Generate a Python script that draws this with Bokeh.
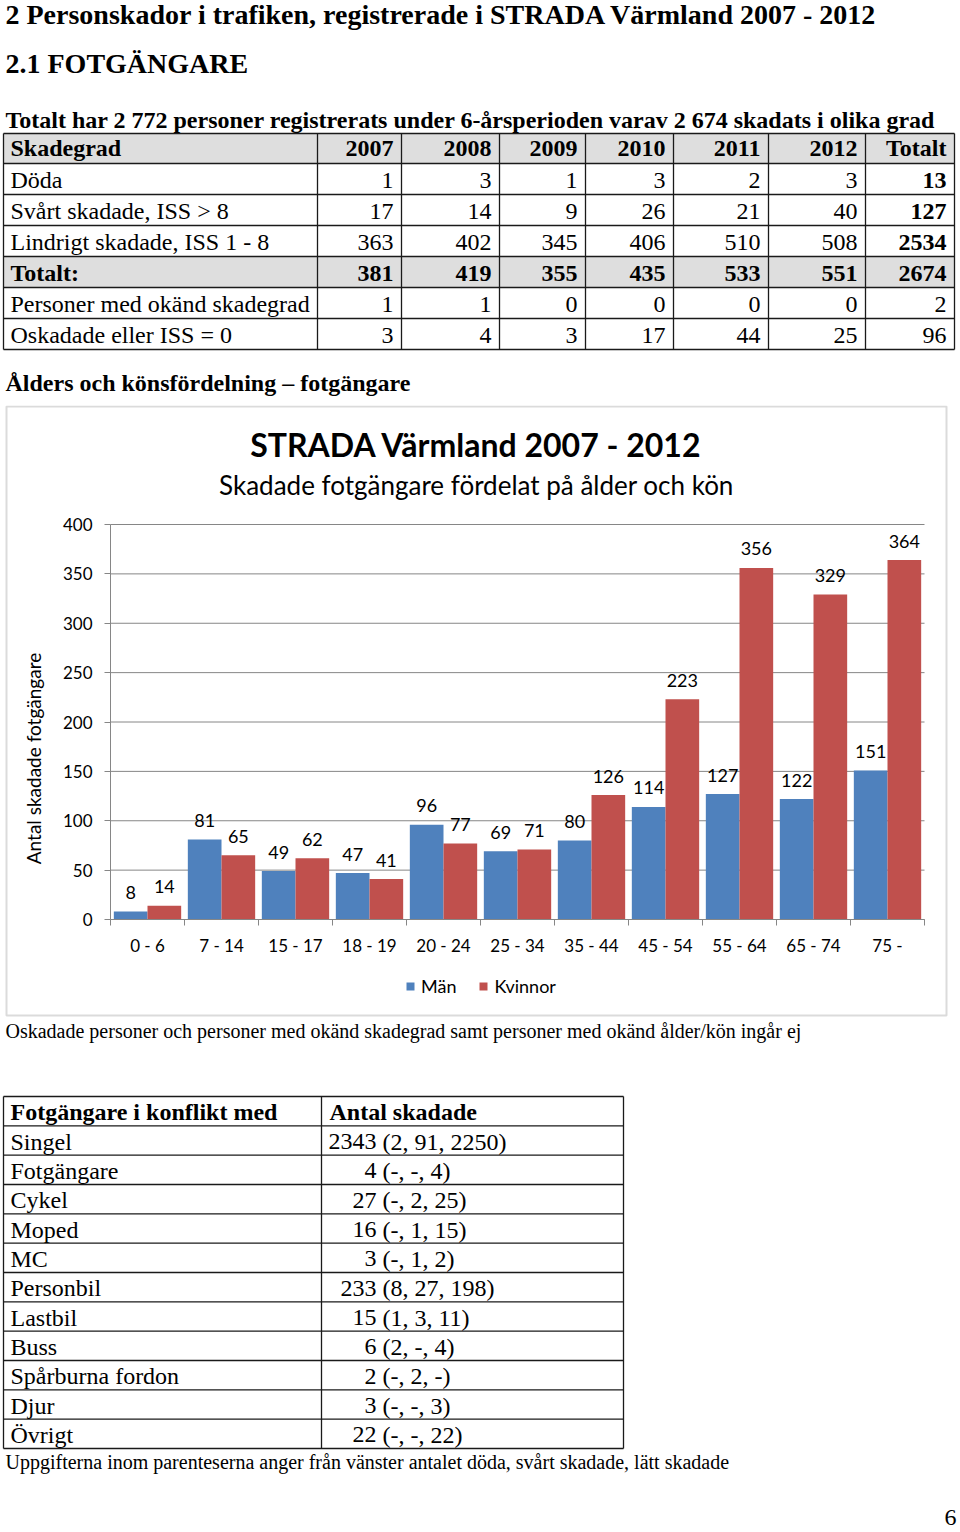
from bokeh.plotting import figure
from bokeh.layouts import column
from bokeh.models import (Range1d, FixedTicker, Legend, LegendItem, Label,
                          BoxAnnotation, ColumnDataSource)
from bokeh.transform import dodge
from bokeh.core.properties import value
from bokeh.embed import file_html
from bokeh.resources import INLINE

# ---------------- data ----------------
heading_main = "2 Personskador i trafiken, registrerade i STRADA Värmland 2007 - 2012"
heading_sub = "2.1 FOTGÄNGARE"
summary_text = ("Totalt har 2 772 personer registrerats under 6-årsperioden "
                "varav 2 674 skadats i olika grad")

table_header = ["Skadegrad", "2007", "2008", "2009", "2010", "2011", "2012", "Totalt"]
row_labels = ["Döda", "Svårt skadade, ISS > 8", "Lindrigt skadade, ISS 1 - 8",
              "Totalt:", "Personer med okänd skadegrad", "Oskadade eller ISS = 0"]
doda = [1, 3, 1, 3, 2, 3, 13]
svart_skadade = [17, 14, 9, 26, 21, 40, 127]
lindrigt_skadade = [363, 402, 345, 406, 510, 508, 2534]
totalt = [381, 419, 355, 435, 533, 551, 2674]
okand_skadegrad = [1, 1, 0, 0, 0, 0, 2]
oskadade = [3, 4, 3, 17, 44, 25, 96]

section_title = "Ålders och könsfördelning – fotgängare"
chart_title = "STRADA Värmland 2007 - 2012"
chart_subtitle = "Skadade fotgängare fördelat på ålder och kön"
y_title = "Antal skadade fotgängare"
age_groups = ["0 - 6", "7 - 14", "15 - 17", "18 - 19", "20 - 24", "25 - 34",
              "35 - 44", "45 - 54", "55 - 64", "65 - 74", "75 -"]
man = [8, 81, 49, 47, 96, 69, 80, 114, 127, 122, 151]
kvinnor = [14, 65, 62, 41, 77, 71, 126, 223, 356, 329, 364]
y_ticks = [0, 50, 100, 150, 200, 250, 300, 350, 400]
series_names = ["Män", "Kvinnor"]
chart_note = ("Oskadade personer och personer med okänd skadegrad samt personer "
              "med okänd ålder/kön ingår ej")

conflict_header = ["Fotgängare i konflikt med", "Antal skadade"]
conflict_types = ["Singel", "Fotgängare", "Cykel", "Moped", "MC", "Personbil",
                  "Lastbil", "Buss", "Spårburna fordon", "Djur", "Övrigt"]
conflict_counts = ["2343 (2, 91, 2250)", "4 (-, -, 4)", "27 (-, 2, 25)",
                   "16 (-, 1, 15)", "3 (-, 1, 2)", "233 (8, 27, 198)",
                   "15 (1, 3, 11)", "6 (2, -, 4)", "2 (-, 2, -)", "3 (-, -, 3)",
                   "22 (-, -, 22)"]
conflict_note = ("Uppgifterna inom parenteserna anger från vänster antalet döda, "
                 "svårt skadade, lätt skadade")
page_number = "6"

# ---------------- styles ----------------
SERIF = "Liberation Serif"
SANS = "Lato"
W = 960
BLUE = "#4F81BD"
RED = "#C0504D"
GRID = "#868686"
LINE = "#1a1a1a"
SHADE = "#dedede"
BASE_SHIFT = 0.3   # correction of the rendered alphabetic baseline (in em)


def no_align(f):
    try:
        f.frame_align = False
    except Exception:
        pass
    try:
        f.title.visible = False
    except Exception:
        pass


def page_fig(h, y0):
    f = figure(width=W, height=h, x_range=Range1d(0, W), y_range=Range1d(y0 + h, y0),
               x_axis_type=None, y_axis_type=None, output_backend="svg",
               toolbar_location=None, min_border=0)
    f.outline_line_color = None
    f.grid.visible = False
    no_align(f)
    return f


def put(f, x, y, txt, size, bold=False, align="left", font=SERIF):
    f.text(x=[x], y=[y - BASE_SHIFT * size], text=[txt], text_font=value(font),
           text_font_size=f"{size}px",
           text_font_style="bold" if bold else "normal", text_align=align,
           text_baseline="alphabetic", text_color="#000000")


# ---------------- top part (headings + table) ----------------
TOP_H = 405
top = page_fig(TOP_H, 0)
col_edges = [3, 317, 401, 499, 585, 673, 768, 865, 954]
row_edges = [133, 163, 194, 225, 256, 287, 318, 349]
top.quad(left=[3, 3], right=[954, 954], top=[133, 256], bottom=[163, 287],
         fill_color=SHADE, line_color=None)
top.segment(x0=[3] * len(row_edges), x1=[954] * len(row_edges), y0=row_edges,
            y1=row_edges, line_color=LINE, line_width=1.3)
top.segment(x0=col_edges, x1=col_edges, y0=[133] * len(col_edges),
            y1=[349] * len(col_edges), line_color=LINE, line_width=1.3)

put(top, 5, 22, heading_main, 28, bold=True)
put(top, 5, 71, heading_sub, 28, bold=True)
put(top, 5, 127, summary_text, 24, bold=True)

put(top, 10, 155, table_header[0], 24, bold=True)
for j, h in enumerate(table_header[1:]):
    put(top, col_edges[j + 2] - 8, 155, h, 24, bold=True, align="right")

table_rows = [doda, svart_skadade, lindrigt_skadade, totalt, okand_skadegrad, oskadade]
for r, (lab, vals) in enumerate(zip(row_labels, table_rows)):
    yb = row_edges[r + 1] + 24
    row_bold = lab == "Totalt:"
    put(top, 10, yb, lab, 24, bold=row_bold)
    for j, v in enumerate(vals):
        b = row_bold or (j == len(vals) - 1 and r < 4)
        put(top, col_edges[j + 2] - 8, yb, str(v), 24, bold=b, align="right")

put(top, 5, 390, section_title, 24, bold=True)

# ---------------- chart ----------------
CH = 612
PLOT_L, PLOT_R = 110, 924        # plot-area left / right (px in chart block)
BASE_Y, TOP_Y = 514, 119         # canvas y of value 0 and of value 400
n = len(age_groups)
ppu = (PLOT_R - PLOT_L) / n
vpp = y_ticks[-1] / (BASE_Y - TOP_Y)
x_lo = -0.5 - PLOT_L / ppu
x_hi = n - 0.5 + (W - PLOT_R) / ppu
y_hi = y_ticks[-1] + TOP_Y * vpp
y_lo = -(CH - BASE_Y) * vpp

chart = figure(width=W, height=CH, x_range=Range1d(x_lo, x_hi),
               y_range=Range1d(y_lo, y_hi), output_backend="svg",
               toolbar_location=None, min_border=0)
chart.outline_line_color = None
no_align(chart)
chart.grid.visible = False

chart.segment(x0=-0.5, x1=n - 0.5, y0=y_ticks, y1=y_ticks, line_color=GRID,
              line_width=1)

src = ColumnDataSource(dict(x=list(range(n)), man=man, kvinnor=kvinnor,
                            man_txt=[str(v) for v in man],
                            kv_txt=[str(v) for v in kvinnor]))
bw = 0.455
r_man = chart.vbar(x=dodge("x", -bw / 2), top="man", width=bw, source=src,
                   fill_color=BLUE, line_color=None)
r_kv = chart.vbar(x=dodge("x", bw / 2), top="kvinnor", width=bw, source=src,
                  fill_color=RED, line_color=None)
for col, ycol, off in (("man_txt", "man", -bw / 2), ("kv_txt", "kvinnor", bw / 2)):
    chart.text(x=dodge("x", off), y=ycol, text=col, source=src, text_align="center",
               text_baseline="middle", y_offset=-19, text_font=value(SANS),
               text_font_size="18px", text_color="#000000")

yax = chart.yaxis[0]
yax.fixed_location = -0.5
yax.bounds = (y_ticks[0], y_ticks[-1])
yax.ticker = FixedTicker(ticks=y_ticks, minor_ticks=[])
yax.axis_line_color = GRID
yax.major_tick_line_color = GRID
yax.major_tick_out = 6
yax.major_tick_in = 0
yax.major_label_standoff = 12
yax.major_label_text_font = SANS
yax.major_label_text_font_size = "17px"
yax.major_label_text_color = "#000000"

xax = chart.xaxis[0]
xax.fixed_location = 0
xax.bounds = (-0.5, n - 0.5)
xax.ticker = FixedTicker(ticks=list(range(n)),
                         minor_ticks=[i - 0.5 for i in range(n + 1)])
xax.major_label_overrides = {i: a for i, a in enumerate(age_groups)}
xax.axis_line_color = GRID
xax.major_tick_out = 0
xax.major_tick_in = 0
xax.minor_tick_out = 6
xax.minor_tick_in = 0
xax.minor_tick_line_color = GRID
xax.major_label_standoff = 9
xax.major_label_text_font = SANS
xax.major_label_text_font_size = "17px"
xax.major_label_text_color = "#000000"

legend = Legend(items=[LegendItem(label=series_names[0], renderers=[r_man]),
                       LegendItem(label=series_names[1], renderers=[r_kv])],
                orientation="horizontal", location=(405, 20), glyph_width=10,
                glyph_height=10, label_text_font=SANS, label_text_font_size="18px",
                label_text_color="#000000",
                padding=0, margin=0, spacing=22, label_standoff=6,
                border_line_color=None, background_fill_alpha=0)
chart.add_layout(legend)

chart.add_layout(Label(x=476, y=CH - 39, x_units="screen", y_units="screen",
                       text=chart_title, text_align="center", text_baseline="middle",
                       text_font=SANS, text_font_size="32px", text_font_style="bold",
                       text_color="#000000"))
chart.add_layout(Label(x=476, y=CH - 79, x_units="screen", y_units="screen",
                       text=chart_subtitle, text_align="center", text_baseline="middle",
                       text_font=SANS, text_font_size="26px", text_color="#000000"))
chart.add_layout(Label(x=33, y=CH - 353, x_units="screen", y_units="screen",
                       text=y_title, angle=90, angle_units="deg", text_align="center",
                       text_baseline="middle", text_font=SANS, text_font_size="19px",
                       text_color="#000000"))
chart.add_layout(BoxAnnotation(left=6, right=946, top=CH - 1, bottom=2,
                               left_units="screen", right_units="screen",
                               top_units="screen", bottom_units="screen",
                               fill_alpha=0, line_color="#888888", line_width=2))

# ---------------- bottom part ----------------
BOT_Y0 = TOP_H + CH
bot = page_fig(1532 - BOT_Y0, BOT_Y0)
nrows = len(conflict_types) + 1
t_top, t_bot = 1096, 1448
edges = [t_top + (t_bot - t_top) * i / nrows for i in range(nrows + 1)]
bot.segment(x0=[3] * len(edges), x1=[623] * len(edges), y0=edges, y1=edges,
            line_color=LINE, line_width=1.3)
bot.segment(x0=[3, 321, 623], x1=[3, 321, 623], y0=[t_top] * 3, y1=[t_bot] * 3,
            line_color=LINE, line_width=1.3)
put(bot, 5, 1036, chart_note, 20)
put(bot, 10, edges[0] + 23, conflict_header[0], 24, bold=True)
put(bot, 329, edges[0] + 23, conflict_header[1], 24, bold=True)
TAB_X = 376   # decimal tab: the total is right-aligned here, the breakdown follows
SPACE = 6     # width of a space at 24px
for i, (ct, cc) in enumerate(zip(conflict_types, conflict_counts)):
    yb = edges[i + 1] + 23
    put(bot, 10, yb, ct, 24)
    total_part, rest_part = cc.split(" ", 1)
    put(bot, TAB_X, yb, total_part, 24, align="right")
    put(bot, TAB_X + SPACE, yb, rest_part, 24, align="left")
put(bot, 5, 1467, conflict_note, 20)
put(bot, 956, 1524, page_number, 24, align="right")

layout = column(top, chart, bot, spacing=0)
open("out.html", "w").write(file_html(layout, INLINE))
